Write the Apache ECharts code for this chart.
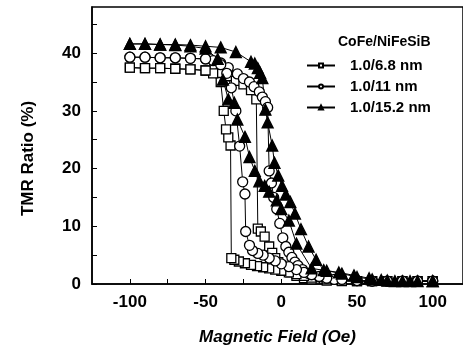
<!DOCTYPE html>
<html>
<head>
<meta charset="utf-8">
<script src="https://cdn.jsdelivr.net/npm/echarts@6/dist/echarts.min.js"></script>
<style>
  html, body { margin: 0; padding: 0; background: #fff; }
  #chart-container { width: 463px; height: 351px; }
</style>
</head>
<body>
<div id="chart-container"></div>
<script>
var dom = document.getElementById("chart-container");
var myChart = echarts.init(dom, null, { renderer: "canvas" });

var FONT = "Liberation Sans, Arial, sans-serif";

// 1.0/6.8 nm  (squares)
var sqUpH = [-100,-90,-80,-70,-60,-50,-40,-35,-30,-25,-20,-16.5,-15.5,-13.5,-11,-8,-6,-4,-2,0,3,6,10,15,20,30,40,50,60,70,80,90,100];
var sqUpR = [37.5,37.4,37.4,37.3,37.2,37.0,36.5,36,35.2,34.6,33.6,32,9.6,9.1,8.2,6.5,5.4,4.5,3.8,3.2,2.5,2,1.4,1,0.8,0.6,0.5,0.5,0.5,0.5,0.5,0.5,0.5];
var sqDnH = [100,90,80,70,60,50,40,30,20,15,10,5,0,-4,-8,-12,-16,-20,-24,-28,-31,-33,-33.5,-35,-36.5,-38,-40,-45,-50,-60,-70,-80,-90,-100];
var sqDnR = [0.5,0.5,0.5,0.5,0.5,0.5,0.6,0.8,1.1,1.4,1.7,2,2.3,2.5,2.7,2.9,3.1,3.3,3.6,3.9,4.2,4.5,24,25.4,26.8,30,35,36.5,37,37.2,37.3,37.4,37.4,37.5];

// 1.0/11 nm  (circles)
var ciUpH = [-100,-90,-80,-70,-60,-50,-40,-35,-29,-25,-21,-18,-14.5,-12.5,-10.5,-9,-8,-6.5,-5,-3,-1,1,3,5,7,9,11,14,18,25,35,50,60,70,80,90,100];
var ciUpR = [39.3,39.3,39.2,39.2,39.1,39,38.3,37.5,36.4,35.6,35,34.2,33.3,32.4,31.6,30.6,19.6,17.5,15,13,10.5,8,6.5,5.5,4.6,3.8,3.2,2.5,1.8,1.2,0.8,0.6,0.5,0.5,0.5,0.5,0.5];
var ciDnH = [100,90,80,70,60,50,40,30,25,20,15,10,5,0,-4,-8,-12,-15.5,-19,-21,-23.5,-24,-25.5,-27.5,-30,-33,-36,-40,-45,-50,-60,-70,-80,-90,-100];
var ciDnR = [0.5,0.5,0.5,0.5,0.5,0.6,0.8,1,1.3,1.6,2,2.5,3,3.5,4,4.5,5,5.3,5.8,6.7,9.1,15.6,17.7,23.9,30,34,36.5,38,38.7,39,39.1,39.2,39.2,39.3,39.3];

// 1.0/15.2 nm  (triangles)
var trUpH = [-100,-90,-80,-70,-60,-50,-40,-30,-20,-17.5,-15.5,-14,-12.5,-10.5,-9,-6,-4.5,-2,0.5,3,6,9,13,18,23,28,38,48,58,66,75,85,100];
var trUpR = [41.6,41.6,41.5,41.5,41.4,41.2,41,40.2,38.5,38.2,37.4,36.6,35.7,30.2,28,24,21,18.8,17,15.5,14.2,12.2,9.5,6.5,4.2,2.4,2,1.5,1,0.7,0.5,0.5,0.5];
var trDnH = [100,90,80,70,60,50,40,30,20,10,5,0,-3,-8,-11,-14.5,-17.5,-21,-24,-29,-31,-35,-38.5,-42,-50,-60,-70,-80,-90,-100];
var trDnR = [0.5,0.5,0.5,0.6,0.8,1.2,1.8,2.3,2.7,7,11,13,14.5,16,17,17.8,19.6,22,25.5,28.5,31.4,32,35.4,39,40.8,41.2,41.4,41.5,41.6,41.6];

var xTicks = [-100,-75,-50,-25,0,25,50,75,100];
var xLabels = [-100,-50,0,50,100];
var yTicks = [0,5,10,15,20,25,30,35,40,45];
var yLabels = [0,10,20,30,40];

function zip(h, r) {
  return h.map(function (v, i) { return [v, r[i]]; });
}

function loop(name, symbol, size, fill, up, down) {
  return {
    name: name,
    type: "line",
    data: up.concat(down),
    symbol: symbol,
    symbolSize: size,
    showSymbol: true,
    lineStyle: { color: "#000", width: 1 },
    itemStyle: { color: fill, borderColor: "#000", borderWidth: 1.3 },
    animation: false,
    z: 3,
  };
}

var option = {
  backgroundColor: "#fff",
  title: {
    text: "CoFe/NiFeSiB",
    left: 333,
    top: 30,
    textStyle: { fontFamily: FONT, fontSize: 14, fontWeight: "bold", color: "#000" },
  },
  legend: {
    orient: "vertical",
    left: 301,
    top: 53,
    itemWidth: 28,
    itemHeight: 5,
    itemGap: 6,
    textStyle: { fontFamily: FONT, fontSize: 15, fontWeight: "bold", color: "#000", padding: [0, 0, 0, 10] },
    data: ["1.0/6.8 nm", "1.0/11 nm", "1.0/15.2 nm"],
  },
  grid: {
    left: 92,
    top: 7,
    width: 375,
    height: 279,
    show: true,
    borderColor: "#000",
    borderWidth: 1.5,
  },
  xAxis: {
    type: "value",
    min: -125,
    max: 120,
    name: "Magnetic Field (Oe)",
    nameLocation: "middle",
    nameGap: 45,
    nameTextStyle: { fontFamily: FONT, fontSize: 17, fontWeight: "bold", fontStyle: "italic", color: "#000" },
    axisLine: { onZero: false, lineStyle: { color: "#000", width: 1.5 } },
    axisTick: { inside: true, length: 5, customValues: xTicks, lineStyle: { color: "#000" } },
    axisLabel: { customValues: xLabels, margin: 10, fontFamily: FONT, fontSize: 17, fontWeight: "bold", color: "#000" },
    splitLine: { show: false },
  },
  yAxis: {
    type: "value",
    min: 0,
    max: 48,
    name: "TMR Ratio (%)",
    nameLocation: "middle",
    nameGap: 55,
    nameTextStyle: { fontFamily: FONT, fontSize: 17, fontWeight: "bold", color: "#000", padding: [0, 26, 0, 0] },
    axisLine: { show: true, onZero: false, lineStyle: { color: "#000", width: 1.5 } },
    axisTick: { show: true, inside: true, length: 5, customValues: yTicks, lineStyle: { color: "#000" } },
    axisLabel: { customValues: yLabels, margin: 11, fontFamily: FONT, fontSize: 17, fontWeight: "bold", color: "#000" },
    splitLine: { show: false },
  },
  series: [
    loop("1.0/6.8 nm", "rect", 9, "#fff", zip(sqUpH, sqUpR), zip(sqDnH, sqDnR)),
    loop("1.0/11 nm", "circle", 10, "#fff", zip(ciUpH, ciUpR), zip(ciDnH, ciDnR)),
    loop("1.0/15.2 nm", "triangle", 11, "#000", zip(trUpH, trUpR), zip(trDnH, trDnR)),
  ],
};

myChart.setOption(option);
window.addEventListener("resize", myChart.resize);
</script>
</body>
</html>
